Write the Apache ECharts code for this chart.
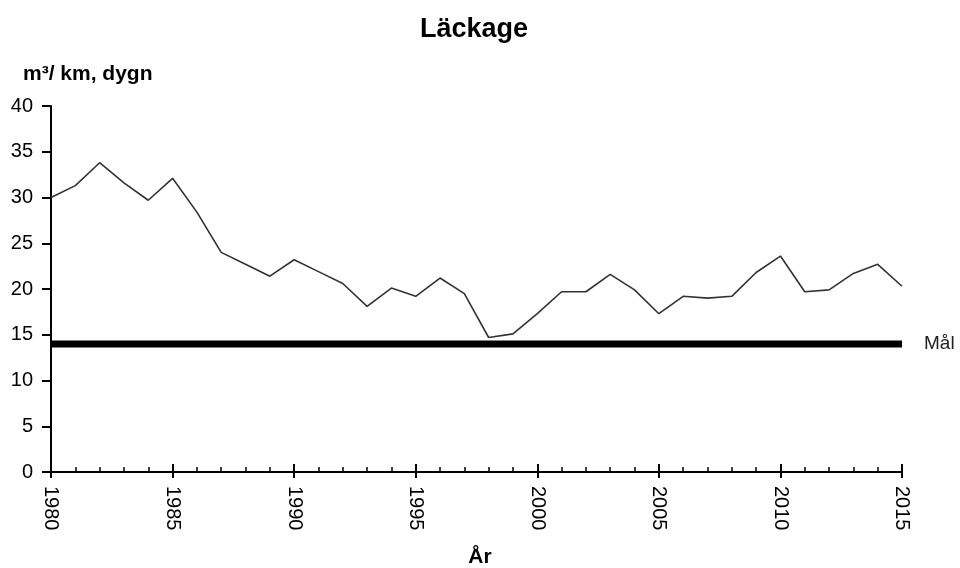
<!DOCTYPE html>
<html>
<head>
<meta charset="utf-8">
<script src="https://cdn.jsdelivr.net/npm/echarts@6/dist/echarts.min.js"></script>
<style>html,body{margin:0;padding:0;background:#fff}#c{width:960px;height:568px}</style>
</head>
<body>
<div id="c"></div>
<script>
var years = [1980,1981,1982,1983,1984,1985,1986,1987,1988,1989,1990,1991,1992,1993,1994,1995,1996,1997,1998,1999,2000,2001,2002,2003,2004,2005,2006,2007,2008,2009,2010,2011,2012,2013,2014,2015];
var leakage = [30.0,31.3,33.8,31.6,29.7,32.1,28.4,24.0,22.7,21.4,23.2,21.9,20.6,18.1,20.1,19.2,21.2,19.5,14.7,15.1,17.3,19.7,19.7,21.6,19.9,17.3,19.2,19.0,19.2,21.8,23.6,19.7,19.9,21.7,22.7,20.3];
var goalYears = [1980, 2015];
var goalValues = [14, 14];
var goalLabel = 'Mål';
var yTicks = [0, 40, 5];
var xTicks = [1980, 2015, 5];

var font = 'Liberation Sans, Arial, sans-serif';
var chart = echarts.init(document.getElementById('c'), null, {renderer: 'canvas'});
chart.setOption({
  animation: false,
  backgroundColor: '#fff',
  title: [
    {text: 'Läckage', left: 469, top: 11, textAlign: 'center',
     textStyle: {fontFamily: font, fontSize: 27, fontWeight: 'bold', color: '#000'}},
    {text: 'm³/ km, dygn', left: 18, top: 59,
     textStyle: {fontFamily: font, fontSize: 21, fontWeight: 'bold', color: '#000'}},
    {text: 'År', left: 475, top: 542, textAlign: 'center',
     textStyle: {fontFamily: font, fontSize: 21, fontWeight: 'bold', color: '#000'}}
  ],
  grid: {left: 51, right: 58, top: 106, bottom: 96, containLabel: false},
  xAxis: [{
    type: 'value', min: xTicks[0], max: xTicks[1], interval: xTicks[2],
    axisLine: {show: true, lineStyle: {color: '#000', width: 2}},
    axisTick: {show: true, inside: true, length: 8, lineStyle: {color: '#000', width: 2}},
    minorTick: {show: true, splitNumber: 5, length: 5, lineStyle: {color: '#000', width: 1.5}},
    splitLine: {show: false},
    axisLabel: {rotate: -90, margin: 14, fontFamily: font, fontSize: 20, color: '#000',
      formatter: function (v) { return String(v); }}
  }, {
    type: 'value', min: xTicks[0], max: xTicks[1], interval: xTicks[2], position: 'bottom',
    axisLine: {show: false},
    axisTick: {show: true, inside: false, length: 6, lineStyle: {color: '#000', width: 2}},
    axisLabel: {show: false}, splitLine: {show: false}
  }],
  yAxis: {
    type: 'value', min: yTicks[0], max: yTicks[1], interval: yTicks[2],
    axisLine: {show: true, lineStyle: {color: '#000', width: 2}},
    axisTick: {show: true, length: 9, lineStyle: {color: '#000', width: 2}},
    splitLine: {show: false},
    axisLabel: {margin: 18, fontFamily: font, fontSize: 20, color: '#000'}
  },
  series: [{
    type: 'line',
    data: years.map(function (y, i) { return [y, leakage[i]]; }),
    symbol: 'none',
    lineStyle: {color: '#333', width: 1.6},
    z: 3
  }, {
    type: 'line',
    data: goalYears.map(function (y, i) { return [y, goalValues[i]]; }),
    symbol: 'none',
    lineStyle: {color: '#000', width: 7, cap: 'butt'},
    endLabel: {show: true, formatter: goalLabel, distance: 22,
      fontFamily: font, fontSize: 19, color: '#222'},
    z: 2
  }]
});
</script>
</body>
</html>
